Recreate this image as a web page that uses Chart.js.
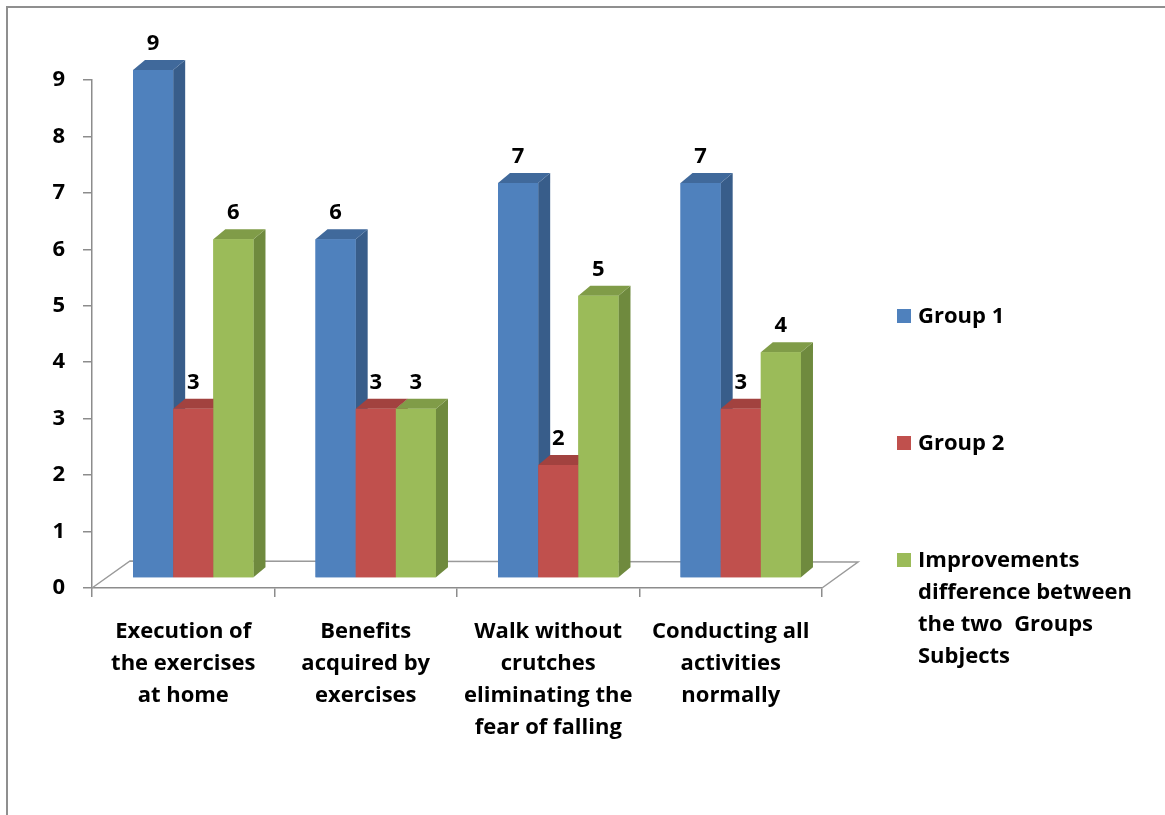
<!DOCTYPE html>
<html>
<head>
<meta charset="utf-8">
<script src="https://cdn.jsdelivr.net/npm/chart.js@4.4.1/dist/chart.umd.min.js"></script>
<style>
    html, body { margin: 0; padding: 0; background: #fff; }
    #wrap { width: 1165px; height: 815px; position: relative; }
</style>
</head>
<body>
<div id="wrap"><canvas id="chart" width="1165" height="815"></canvas></div>
<script>
// Categories (multi-line tick labels)
const categories = [
    ["Execution of", "the exercises", "at home"],
    ["Benefits", "acquired by", "exercises"],
    ["Walk without", "crutches", "eliminating the", "fear of falling"],
    ["Conducting all", "activities", "normally"],
];

// Series values
const group1 = [9, 6, 7, 7];
const group2 = [3, 3, 2, 3];
const improvements = [6, 3, 5, 4];

// Series names, legend text split into lines
const seriesNames = [
    ["Group 1"],
    ["Group 2"],
    ["Improvements", "difference between", "the two  Groups", "Subjects"],
];

const Y_MIN = 0;
const Y_MAX = 9;

const FONT = "'Open Sans', Lato, sans-serif";
const FONT_SIZE = 22;
const AXIS_COLOR = "#8c8c8c";

// 3D look: depth of the boxes and how far the bars sit behind the axis plane
const DEPTH_X = 12;
const DEPTH_Y = 10;
const SHIFT_X = 10;
const SHIFT_Y = -10;

const palette = [
    { front: "#4F81BD", side: "#385D8A", top: "#40699B" },
    { front: "#C0504D", side: "#8C3A38", top: "#A2423F" },
    { front: "#9BBB59", side: "#6F8A3E", top: "#809C48" },
];

const seriesValues = [group1, group2, improvements];

const datasets = seriesValues.map((values, i) => ({
    label: seriesNames[i].join(" "),
    data: values,
    backgroundColor: palette[i].front,
    sideColor: palette[i].side,
    topColor: palette[i].top,
    borderWidth: 0,
    barPercentage: 1.0,
    categoryPercentage: 0.66,
    clip: false,
}));

const bar3dPlugin = {
    id: "bar3d",
    beforeDraw(chart) {
        // outer frame
        const ctx = chart.ctx;
        ctx.save();
        ctx.strokeStyle = "#8f8f8f";
        ctx.lineWidth = 2;
        ctx.strokeRect(7, 7, 1300, 1000);
        ctx.restore();
    },
    beforeDatasetsDraw(chart) {
        const ctx = chart.ctx;
        const { left, right, bottom } = chart.chartArea;
        // floor outline
        ctx.save();
        ctx.strokeStyle = "#9a9a9a";
        ctx.lineWidth = 1.5;
        ctx.beginPath();
        ctx.moveTo(left, bottom);
        ctx.lineTo(left + 38, bottom - 27);
        ctx.lineTo(right + 36, bottom - 26);
        ctx.lineTo(right, bottom);
        ctx.stroke();
        ctx.restore();

        ctx.save();
        ctx.translate(SHIFT_X, SHIFT_Y);
    },
    afterDatasetsDraw(chart) {
        const ctx = chart.ctx;
        const n = chart.data.labels.length;

        for (let c = 0; c < n; c++) {
            chart.data.datasets.forEach((ds, i) => {
                const bar = chart.getDatasetMeta(i).data[c];
                const { x, y, width, base } = bar.getProps(["x", "y", "width", "base"], true);
                const l = x - width / 2;
                const r = x + width / 2;

                // right side face
                ctx.fillStyle = ds.sideColor;
                ctx.beginPath();
                ctx.moveTo(r, y);
                ctx.lineTo(r + DEPTH_X, y - DEPTH_Y);
                ctx.lineTo(r + DEPTH_X, base - DEPTH_Y);
                ctx.lineTo(r, base);
                ctx.closePath();
                ctx.fill();

                // top face
                ctx.fillStyle = ds.topColor;
                ctx.beginPath();
                ctx.moveTo(l, y);
                ctx.lineTo(l + DEPTH_X, y - DEPTH_Y);
                ctx.lineTo(r + DEPTH_X, y - DEPTH_Y);
                ctx.lineTo(r, y);
                ctx.closePath();
                ctx.fill();

                // front face again so it covers the neighbour's side
                bar.draw(ctx);
            });
        }

        // value labels
        ctx.fillStyle = "#000";
        ctx.font = "bold " + FONT_SIZE + "px " + FONT;
        ctx.textAlign = "center";
        ctx.textBaseline = "alphabetic";
        chart.data.datasets.forEach((ds, i) => {
            chart.getDatasetMeta(i).data.forEach((bar, j) => {
                ctx.fillText(String(ds.data[j]), bar.x, bar.y - 20);
            });
        });

        ctx.restore();
    },
    afterDraw(chart) {
        // legend on the right
        const ctx = chart.ctx;
        const itemY = [316, 443, 560];
        const boxX = 897;
        const textX = 918;
        const lineHeight = 32;
        ctx.save();
        ctx.font = "bold " + FONT_SIZE + "px " + FONT;
        ctx.textAlign = "left";
        ctx.textBaseline = "middle";
        chart.data.datasets.forEach((ds, i) => {
            ctx.fillStyle = ds.backgroundColor;
            ctx.fillRect(boxX, itemY[i] - 7, 14, 14);
            ctx.fillStyle = "#000";
            seriesNames[i].forEach((line, k) => {
                ctx.fillText(line, textX, itemY[i] + 1 + k * lineHeight);
            });
        });
        ctx.restore();
    },
};

const ctx = document.getElementById("chart").getContext("2d");
new Chart(ctx, {
    type: "bar",
    data: {
        labels: categories,
        datasets: datasets,
    },
    options: {
        responsive: false,
        animation: false,
        layout: {
            padding: { left: 0, top: 80, right: 343, bottom: 0 },
        },
        plugins: {
            legend: { display: false },
            tooltip: { enabled: false },
        },
        scales: {
            x: {
                afterFit: (scale) => {
                    scale.height = 227;
                },
                grid: {
                    offset: true,
                    drawOnChartArea: false,
                    drawTicks: true,
                    tickLength: 9,
                    color: AXIS_COLOR,
                    lineWidth: 1.5,
                },
                border: { display: true, color: AXIS_COLOR, width: 1.5 },
                ticks: {
                    color: "#000",
                    padding: 19,
                    maxRotation: 0,
                    autoSkip: false,
                    font: { family: FONT, size: FONT_SIZE, weight: "bold", lineHeight: 32 / FONT_SIZE },
                },
            },
            y: {
                min: Y_MIN,
                max: Y_MAX,
                afterFit: (scale) => {
                    scale.width = 92;
                },
                grid: {
                    drawOnChartArea: false,
                    drawTicks: true,
                    tickLength: 9,
                    color: AXIS_COLOR,
                    lineWidth: 1.5,
                },
                border: { display: true, color: AXIS_COLOR, width: 1.5 },
                ticks: {
                    stepSize: 1,
                    color: "#000",
                    padding: 18,
                    font: { family: FONT, size: FONT_SIZE, weight: "bold" },
                },
            },
        },
    },
    plugins: [bar3dPlugin],
});
</script>
</body>
</html>
